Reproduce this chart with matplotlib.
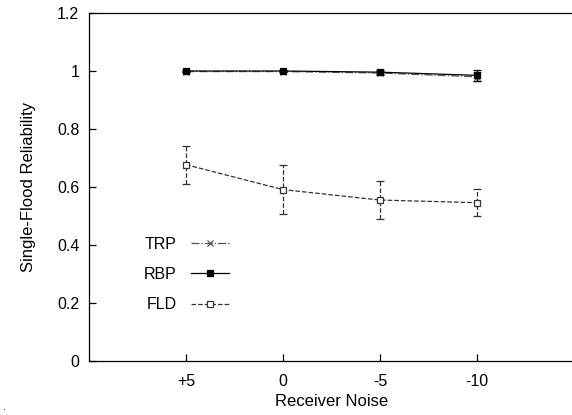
import matplotlib.pyplot as plt
from matplotlib.lines import Line2D

plt.rcParams['font.family'] = ['Liberation Sans', 'DejaVu Sans']

# receiver noise levels (categories)
noise_labels = ["+5", "0", "-5", "-10"]
x_pos = [1, 2, 3, 4]

# single-flood reliability per protocol, with error bar half-widths
trp = [0.998, 0.998, 0.993, 0.980]
trp_err = [0.003, 0.003, 0.008, 0.015]
rbp = [1.0, 1.0, 0.996, 0.985]
rbp_err = [0.002, 0.002, 0.006, 0.020]
fld = [0.677, 0.591, 0.555, 0.546]
fld_err_low = [0.066, 0.083, 0.064, 0.047]
fld_err_high = [0.065, 0.086, 0.065, 0.046]

fig = plt.figure(figsize=(5.72, 4.15), dpi=100)
ax = fig.add_axes([0.1556, 54 / 415, 485 / 572, 348 / 415])

series = [
    ("TRP", trp, [trp_err, trp_err], dict(color="#555555", linestyle="-.", marker="x", markersize=4.5, mfc="none")),
    ("RBP", rbp, [rbp_err, rbp_err], dict(color="black", linestyle="-", marker="s", markersize=4.5, mfc="black")),
    ("FLD", fld, [fld_err_low, fld_err_high], dict(color="#333333", linestyle="--", marker="s", markersize=4.5, mfc="white")),
]

handles = []
for name, vals, err, style in series:
    cont = ax.errorbar(x_pos, vals, yerr=err, linewidth=0.9, elinewidth=0.9,
                       capsize=3, capthick=0.9, mew=0.9, **style)
    for bar in cont[2]:
        bar.set_linestyle(style["linestyle"])
    handles.append(Line2D([], [], linewidth=0.9, mew=0.9, label=name, **style))

ax.set_xlim(0, 5)
ax.set_ylim(0, 1.2)
ax.set_xticks(x_pos)
ax.set_xticklabels(noise_labels)
ax.set_yticks([0, 0.2, 0.4, 0.6, 0.8, 1.0, 1.2])
ax.set_yticklabels(["0", "0.2", "0.4", "0.6", "0.8", "1", "1.2"])
ax.tick_params(direction="in", length=5, width=0.9, labelsize=11.5, pad=7)
ax.tick_params(axis="x", pad=9)
for s in ax.spines.values():
    s.set_linewidth(0.9)

ax.set_xlabel("Receiver Noise", fontsize=12, labelpad=4)
ax.set_ylabel("Single-Flood Reliability", fontsize=12, labelpad=15)

ax.legend(handles=handles, loc="upper left", bbox_to_anchor=(0.083, 0.398), frameon=False,
          markerfirst=False, fontsize=11.5, handlelength=2.4, handletextpad=0.9,
          labelspacing=0.95, numpoints=1)

fig.text(0.005, 0.012, ".", fontsize=8)

fig.savefig("out.png", dpi=100)
